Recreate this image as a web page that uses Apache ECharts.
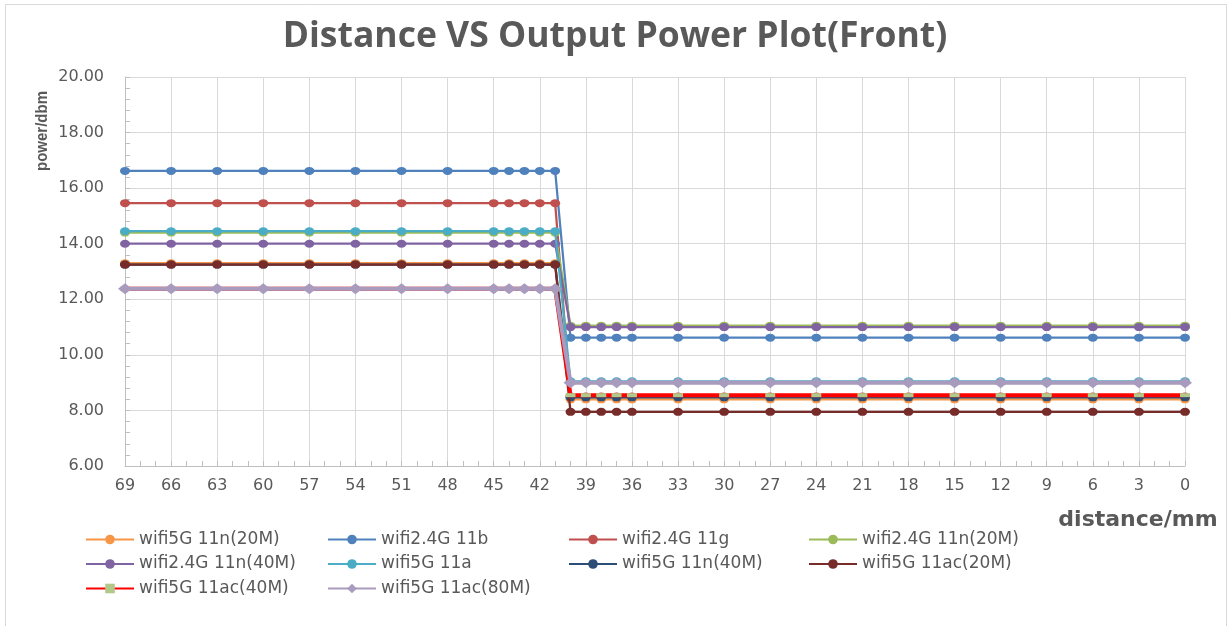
<!DOCTYPE html>
<html>
<head>
<meta charset="utf-8">
<script src="https://cdn.jsdelivr.net/npm/echarts@6/dist/echarts.min.js"></script>
<style>
html,body{margin:0;padding:0;background:#fff;}
#chart{width:1230px;height:626px;}
</style>
</head>
<body>
<div id="chart"></div>
<script>
// distance (mm) of each measurement point
var distances = [69,66,63,60,57,54,51,48,45,44,43,42,41,40,39,38,37,36,33,30,27,24,21,18,15,12,9,6,3,0];

var wifi5G_11n_20M   = [13.3,13.3,13.3,13.3,13.3,13.3,13.3,13.3,13.3,13.3,13.3,13.3,13.3, 8.4,8.4,8.4,8.4,8.4,8.4,8.4,8.4,8.4,8.4,8.4,8.4,8.4,8.4,8.4,8.4,8.4];
var wifi24G_11b      = [16.62,16.62,16.62,16.62,16.62,16.62,16.62,16.62,16.62,16.62,16.62,16.62,16.62, 10.62,10.62,10.62,10.62,10.62,10.62,10.62,10.62,10.62,10.62,10.62,10.62,10.62,10.62,10.62,10.62,10.62];
var wifi24G_11g      = [15.46,15.46,15.46,15.46,15.46,15.46,15.46,15.46,15.46,15.46,15.46,15.46,15.46, 8.5,8.5,8.5,8.5,8.5,8.5,8.5,8.5,8.5,8.5,8.5,8.5,8.5,8.5,8.5,8.5,8.5];
var wifi24G_11n_20M  = [14.4,14.4,14.4,14.4,14.4,14.4,14.4,14.4,14.4,14.4,14.4,14.4,14.4, 11.05,11.05,11.05,11.05,11.05,11.05,11.05,11.05,11.05,11.05,11.05,11.05,11.05,11.05,11.05,11.05,11.05];
var wifi24G_11n_40M  = [14.0,14.0,14.0,14.0,14.0,14.0,14.0,14.0,14.0,14.0,14.0,14.0,14.0, 11.0,11.0,11.0,11.0,11.0,11.0,11.0,11.0,11.0,11.0,11.0,11.0,11.0,11.0,11.0,11.0,11.0];
var wifi5G_11a       = [14.45,14.45,14.45,14.45,14.45,14.45,14.45,14.45,14.45,14.45,14.45,14.45,14.45, 9.05,9.05,9.05,9.05,9.05,9.05,9.05,9.05,9.05,9.05,9.05,9.05,9.05,9.05,9.05,9.05,9.05];
var wifi5G_11n_40M   = [13.25,13.25,13.25,13.25,13.25,13.25,13.25,13.25,13.25,13.25,13.25,13.25,13.25, 8.47,8.47,8.47,8.47,8.47,8.47,8.47,8.47,8.47,8.47,8.47,8.47,8.47,8.47,8.47,8.47,8.47];
var wifi5G_11ac_20M  = [13.25,13.25,13.25,13.25,13.25,13.25,13.25,13.25,13.25,13.25,13.25,13.25,13.25, 7.95,7.95,7.95,7.95,7.95,7.95,7.95,7.95,7.95,7.95,7.95,7.95,7.95,7.95,7.95,7.95,7.95];
var wifi5G_11ac_40M  = [12.38,12.38,12.38,12.38,12.38,12.38,12.38,12.38,12.38,12.38,12.38,12.38,12.38, 8.55,8.55,8.55,8.55,8.55,8.55,8.55,8.55,8.55,8.55,8.55,8.55,8.55,8.55,8.55,8.55,8.55];
var wifi5G_11ac_80M  = [12.38,12.38,12.38,12.38,12.38,12.38,12.38,12.38,12.38,12.38,12.38,12.38,12.38, 9.0,9.0,9.0,9.0,9.0,9.0,9.0,9.0,9.0,9.0,9.0,9.0,9.0,9.0,9.0,9.0,9.0];

var seriesNames = ['wifi5G 11n(20M)','wifi2.4G 11b','wifi2.4G 11g','wifi2.4G 11n(20M)','wifi2.4G 11n(40M)','wifi5G 11a','wifi5G 11n(40M)','wifi5G 11ac(20M)','wifi5G 11ac(40M)','wifi5G 11ac(80M)'];
var seriesValues = [wifi5G_11n_20M, wifi24G_11b, wifi24G_11g, wifi24G_11n_20M, wifi24G_11n_40M, wifi5G_11a, wifi5G_11n_40M, wifi5G_11ac_20M, wifi5G_11ac_40M, wifi5G_11ac_80M];

var titleText = 'Distance VS Output Power Plot(Front)';
var yName = 'power/dbm';
var xName = 'distance/mm';

// styles
var colors = ['#F79646','#4F81BD','#C0504D','#9BBB59','#8064A2','#4BACC6','#2C4D75','#772C2A','#FF0000','#A99BBD'];
var txt = '#595959';

function pairs(vals){
  var out = [];
  for (var i = 0; i < distances.length; i++) out.push([distances[i], vals[i]]);
  return out;
}

var series = seriesNames.map(function(name, i){
  var s = {
    name: name,
    type: 'line',
    xAxisIndex: 0,
    yAxisIndex: 0,
    data: pairs(seriesValues[i]),
    symbol: 'circle',
    symbolSize: [10, 8],
    showAllSymbol: true,
    lineStyle: {color: colors[i], width: 2.25},
    itemStyle: {color: colors[i]},
    emphasis: {disabled: true},
    z: 2 + i
  };
  if (name === 'wifi5G 11ac(40M)') {
    s.symbol = 'rect';
    s.symbolSize = [10, 4];
    s.lineStyle = {color: '#FF0000', width: 4};
    s.itemStyle = {color: '#B3C98A'};
  }
  if (name === 'wifi5G 11ac(80M)') {
    s.symbol = 'diamond';
    s.symbolSize = [14, 11];
    s.lineStyle = {color: colors[i], width: 4};
  }
  return s;
});

function legendCol(left, names){
  return {
    orient: 'vertical',
    left: left,
    top: 526,
    itemWidth: 48,
    itemHeight: 12,
    itemGap: 7.5,
    selectedMode: false,
    data: names,
    textStyle: {color: txt, fontFamily: 'DejaVu Sans', fontSize: 17, lineHeight: 16}
  };
}

var tickStyle = {color: '#BFBFBF', width: 1};

var chart = echarts.init(document.getElementById('chart'), null, {renderer: 'canvas'});
chart.setOption({
  animation: false,
  backgroundColor: '#fff',
  title: {
    text: titleText,
    left: 'center',
    top: 11,
    textStyle: {color: txt, fontFamily: 'Open Sans', fontWeight: 'bold', fontSize: 35.5, lineHeight: 42}
  },
  legend: [
    legendCol(80, ['wifi5G 11n(20M)','wifi2.4G 11n(40M)','wifi5G 11ac(40M)']),
    legendCol(322, ['wifi2.4G 11b','wifi5G 11a','wifi5G 11ac(80M)']),
    legendCol(563, ['wifi2.4G 11g','wifi5G 11n(40M)']),
    legendCol(803, ['wifi2.4G 11n(20M)','wifi5G 11ac(20M)'])
  ],
  grid: {left: 125, right: 45, top: 77, bottom: 160, containLabel: false},
  xAxis: [{
    type: 'value',
    min: 0, max: 69, interval: 3,
    inverse: true,
    position: 'bottom',
    axisLine: {show: true, onZero: false, lineStyle: {color: '#BFBFBF'}},
    axisTick: {show: false},
    splitLine: {show: true, lineStyle: {color: '#D9D9D9', width: 1}},
    axisLabel: {color: txt, fontFamily: 'DejaVu Sans', fontSize: 16, margin: 12}
  }, {
    type: 'value',
    min: 0, max: 69, interval: 1,
    inverse: true,
    position: 'bottom',
    axisLine: {show: false, onZero: false},
    axisTick: {show: true, inside: true, length: 5, lineStyle: tickStyle},
    splitLine: {show: false},
    axisLabel: {show: false}
  }],
  yAxis: [{
    type: 'value',
    min: 6, max: 20, interval: 2,
    position: 'left',
    axisLine: {show: true, onZero: false, lineStyle: {color: '#BFBFBF'}},
    axisTick: {show: false},
    splitLine: {show: true, lineStyle: {color: '#D9D9D9', width: 1}},
    axisLabel: {color: txt, fontFamily: 'DejaVu Sans', fontSize: 16, margin: 21,
      formatter: function(v){ return v.toFixed(2); }}
  }, {
    type: 'value',
    min: 6, max: 20, interval: 0.4,
    position: 'left',
    offset: 0,
    axisLine: {show: false, onZero: false},
    axisTick: {show: true, inside: true, length: 5, lineStyle: tickStyle},
    splitLine: {show: false},
    axisLabel: {show: false}
  }],
  graphic: [
    {type: 'rect', shape: {x: 5.5, y: 4.5, width: 1221, height: 640}, style: {fill: 'none', stroke: '#D9D9D9', lineWidth: 1}, silent: true, z: -1},
    {type: 'text', x: 42, y: 131, rotation: Math.PI / 2, scaleY: 1.15,
      style: {text: yName, fill: txt, font: 'bold 15px "Liberation Sans"', align: 'center', verticalAlign: 'middle'}},
    {type: 'text', x: 1138, y: 520,
      style: {text: xName, fill: txt, font: 'bold 22px "DejaVu Sans"', align: 'center', verticalAlign: 'middle'}}
  ],
  series: series
});
</script>
</body>
</html>
